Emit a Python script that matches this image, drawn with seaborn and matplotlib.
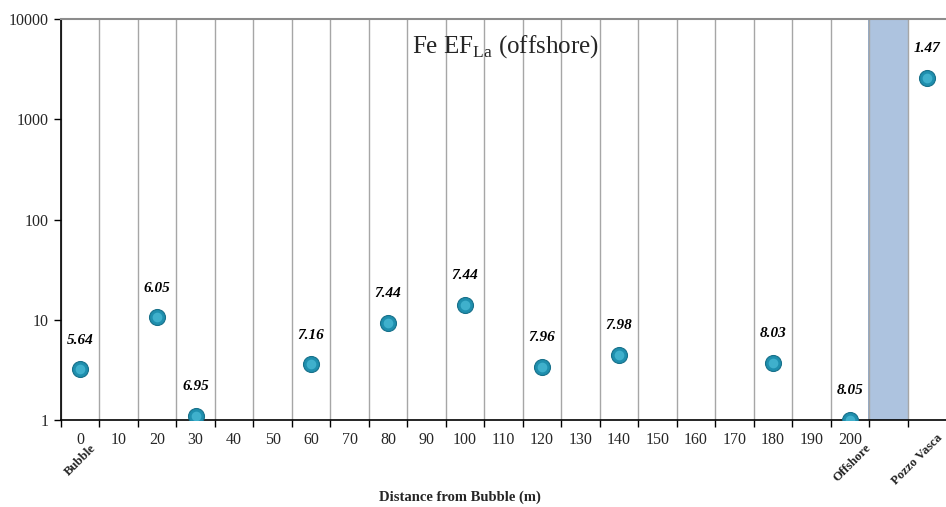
import matplotlib
matplotlib.use("Agg")
import matplotlib.pyplot as plt
import seaborn as sns
import pandas as pd
import numpy as np

# Sampling stations along the transect (the empty slot keeps the shaded gap)
categories = [str(d) for d in range(0, 210, 10)] + ["", "Pozzo Vasca"]
sample_sites = ["0", "20", "30", "60", "80", "100", "120", "140", "180", "200", "Pozzo Vasca"]
ef_values = [3.2, 10.6, 1.1, 3.6, 9.3, 14.0, 3.4, 4.45, 3.7, 1.0, 2600]
point_labels = ["5.64", "6.05", "6.95", "7.16", "7.44", "7.44", "7.96", "7.98", "8.03", "8.05", "1.47"]
yticks = [1, 10, 100, 1000, 10000]

sns.set_theme(style="white")
plt.rcParams["font.family"] = ["Liberation Serif", "DejaVu Serif"]
plt.rcParams["mathtext.fontset"] = "custom"
plt.rcParams["mathtext.rm"] = "Liberation Serif"

df = pd.DataFrame({"site": sample_sites, "ef": ef_values, "label": point_labels})

fig = plt.figure(figsize=(9.46, 5.07), dpi=100)
ax = fig.add_axes([61 / 946, 1 - 420 / 507, 1 - 61 / 946, (420 - 19) / 507])

# shaded slot between the transect and the Pozzo Vasca well
gap = categories.index("")
ax.axvspan(gap - 0.5, gap + 0.5, facecolor="#adc3df", edgecolor="none", zorder=0)
ax.axvline(gap - 0.5, color="#7f9cc0", lw=1.2, zorder=0.5)

sns.stripplot(data=df, x="site", y="ef", order=categories, jitter=False,
              color="#1f8fae", size=11.5, linewidth=0.8, edgecolor="#17708a",
              ax=ax, zorder=3)
sns.stripplot(data=df, x="site", y="ef", order=categories, jitter=False,
              color="#3fb0cc", size=7, linewidth=0, ax=ax, zorder=4)

ax.set_yscale("log")
ax.set_ylim(1, 10000)
ax.set_xlim(-0.5, len(categories) - 0.5)
ax.set_yticks(yticks)
ax.set_yticklabels([str(v) for v in yticks])
ax.minorticks_off()

# value labels above each point
for site, val, lab in zip(df["site"], df["ef"], df["label"]):
    xi = categories.index(site)
    ax.annotate(lab, (xi, val), xytext=(0, 21), textcoords="offset points",
                ha="center", va="center", fontsize=11, fontweight="bold",
                fontstyle="italic", color="black", zorder=5)

# category boundaries as vertical grid lines and tick marks
ax.set_xticks(range(len(categories)))
ax.set_xticklabels([c if c not in ("", "Pozzo Vasca") else "" for c in categories],
                   fontsize=11.5)
ax.set_xticks(np.arange(len(categories)) - 0.5, minor=True)
ax.tick_params(axis="x", which="major", length=0, pad=9)
ax.tick_params(axis="x", which="minor", length=5, width=1, color="black",
               direction="out", bottom=True)
ax.tick_params(axis="y", which="major", length=5, width=1, color="black",
               direction="out", left=True, labelsize=11.5, pad=4)
ax.grid(True, axis="x", which="minor", color="#a6a6a6", lw=1)
ax.grid(False, axis="y")
ax.set_axisbelow(True)

for side in ("left", "bottom"):
    ax.spines[side].set_color("black")
    ax.spines[side].set_linewidth(1.2)
ax.spines["top"].set_color("#8c8c8c")
ax.spines["top"].set_linewidth(1.5)
ax.spines["right"].set_visible(False)

ax.set_xlabel("")
ax.set_ylabel("")

# rotated endpoint names under the axis
trans = ax.get_xaxis_transform()
for name, xi, dy, shift in [("Bubble", 0, -0.055, 0.25),
                            ("Offshore", 20, -0.055, 0.4),
                            ("Pozzo Vasca", 22, -0.03, 0.25)]:
    ax.text(xi + shift, dy, name, transform=trans, rotation=45, ha="right",
            va="top", fontsize=9.2, fontweight="bold", rotation_mode="anchor")

fig.text(460 / 946, 1 - 497 / 507, "Distance from Bubble (m)",
         ha="center", va="center", fontsize=10.5, fontweight="bold")

ax.text((505 - 61) / 885, (420 - 47) / 401, r"Fe EF$_{\mathrm{La}}$ (offshore)",
        transform=ax.transAxes, ha="center", va="center", fontsize=18)

fig.savefig("out.png", dpi=100)
